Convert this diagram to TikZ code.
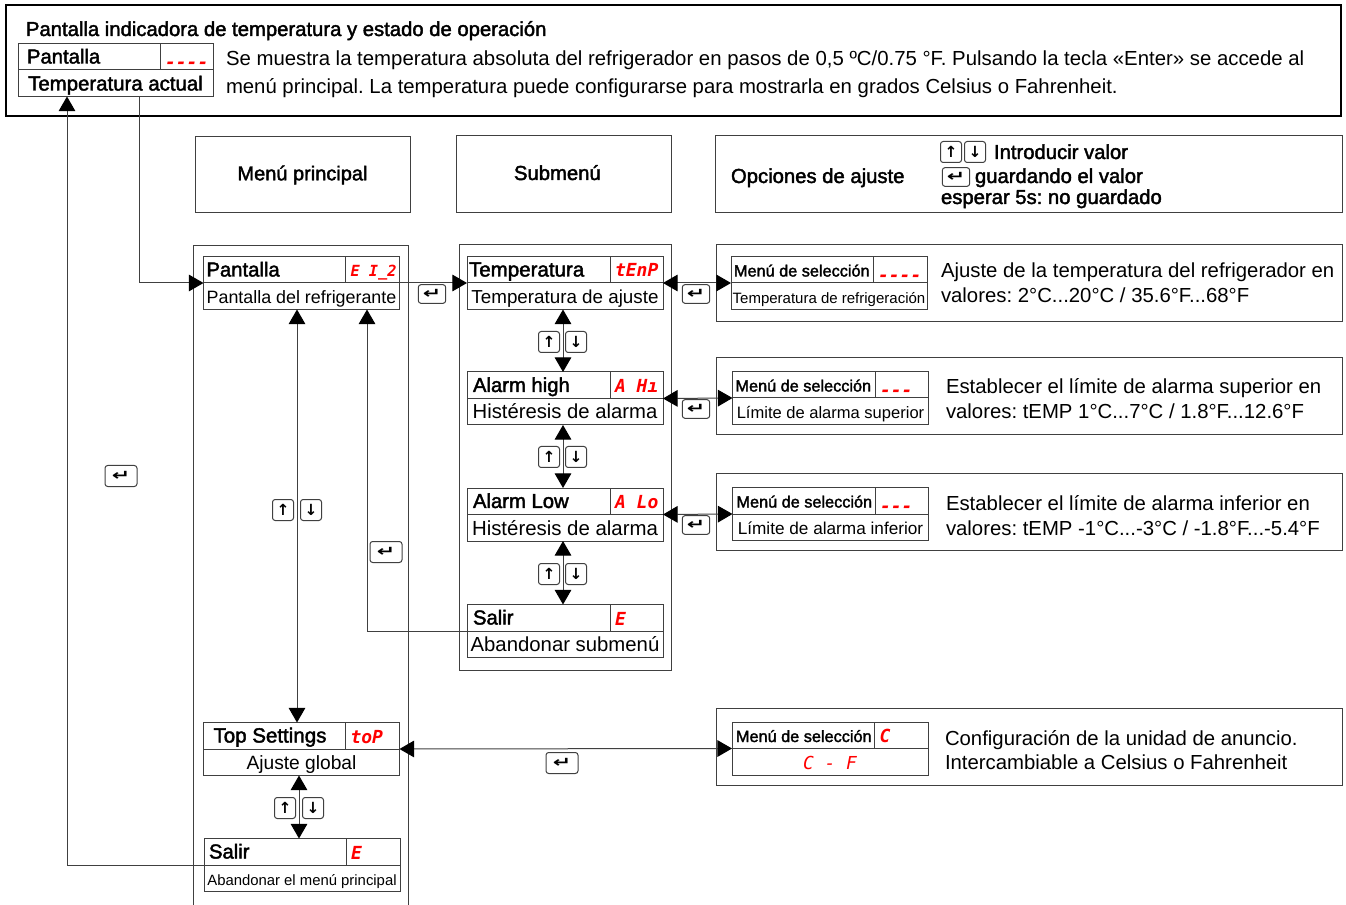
\documentclass[tikz,border=0pt]{standalone}
\usepackage{fontspec}
\setmainfont{Liberation Sans}
\newfontfamily\fakebold[FakeBold=2]{Liberation Sans}
\newfontfamily\segfont{DejaVu Sans Mono}
\newfontfamily\keyfont{DejaVu Sans}
\usetikzlibrary{arrows.meta, calc}

\tikzset{
	frame/.style={draw=black!75, line width=0.75pt},
	box/.style={frame, rectangle, inner sep=0pt, outer sep=0pt},
	menubox/.style={box, minimum height=39.75pt},
	plain/.style={inner sep=0pt, outer sep=0pt, anchor=base west},
	arrowkey/.style={box, rounded corners=2pt, minimum width=15.75pt, minimum height=15.75pt, font=\keyfont\bfseries\fontsize{11.5}{11.5}\selectfont},
	enterkey/.style={box, rounded corners=2pt, minimum width=20.5pt, minimum height=14pt, font=\keyfont\bfseries\fontsize{11}{11}\selectfont},
	bigenter/.style={enterkey, minimum width=24pt, minimum height=15.75pt},
	link/.style={frame, -{Triangle[length=11pt, width=12.5pt, color=black]}},
	twolink/.style={frame, {Triangle[length=11pt, width=12.5pt, color=black]}-{Triangle[length=11pt, width=12.5pt, color=black]}},
}

\begin{document}
\frenchspacing
\begin{tikzpicture}[x=0.75pt, y=-0.75pt]
	% Parameters
	\def\unit{0.75pt}
	\def\size#1{\fontsize{#1}{#1}\selectfont}
	\def\dashes{\raisebox{-3.5pt}{-{}-{}-{}-}}
	\def\dashthree{\raisebox{-3.5pt}{-{}-{}-}}
	\def\enter{\scalebox{1.5}[1]{↵}}

	\useasboundingbox (0,0) rectangle (1346,905);

	% Top frame
	\node[box, draw=black, line width=1.2pt, minimum width=1335*\unit, minimum height=111*\unit] (Top) at (673.5,60.5) {};
	\node[plain, font=\fakebold\size{15.2}] (TopTitle) at (26,36) {Pantalla indicadora de temperatura y estado de operación};
	\node[plain, font=\size{15.27}] (TopLineA) at (226,65.5) {Se muestra la temperatura absoluta del refrigerador en pasos de 0,5 ºC/0.75 °F. Pulsando la tecla «Enter» se accede al};
	\node[plain, font=\size{15.25}] (TopLineB) at (226,93.5) {menú principal. La temperatura puede configurarse para mostrarla en grados Celsius o Fahrenheit.};

	% Column headers
	\node[box, minimum width=215*\unit, minimum height=76*\unit, font=\fakebold\size{15}] (HeadMain) at (302.5,175) {\raisebox{2pt}{Menú principal}};
	\node[box, minimum width=215*\unit, minimum height=77*\unit] (HeadSub) at (563.5,174.5) {};
	\node[plain, font=\fakebold\size{15.2}] (HeadSubText) at (514,180) {Submenú};
	\node[box, minimum width=627*\unit, minimum height=77*\unit] (HeadOpt) at (1028.5,174.5) {};
	\node[plain, font=\fakebold\size{15.2}] (HeadOptText) at (731,183) {Opciones de ajuste};
	\node[plain, font=\fakebold\size{15.2}] (LegendA) at (994,159) {Introducir valor};
	\node[plain, font=\fakebold\size{15.2}] (LegendB) at (975,183) {guardando el valor};
	\node[plain, font=\fakebold\size{15.2}] (LegendC) at (941,204) {esperar 5s: no guardado};

	% Panels
	\draw[frame] (193,905) -- (193,245.5) -- (408,245.5) -- (408,905);
	\node[box, minimum width=212*\unit, minimum height=425*\unit] (PanelSub) at (565,457.5) {};
	\foreach \name/\cy in {PanelA/283, PanelB/396, PanelC/512, PanelD/747} {
		\node[box, minimum width=625.5*\unit, minimum height=77.5*\unit] (\name) at (1029.5,\cy) {};
	}

	% Option texts
	\foreach \name/\x/\y/\txt in {
		OptA/941/278/{Ajuste de la temperatura del refrigerador en},
		OptB/941/303/{valores: 2°C...20°C / 35.6°F...68°F},
		OptC/946/394/{Establecer el límite de alarma superior en},
		OptD/946/419/{valores: tEMP 1°C...7°C / 1.8°F...12.6°F},
		OptE/946/510/{Establecer el límite de alarma inferior en},
		OptF/946/535/{valores: tEMP -1°C...-3°C / -1.8°F...-5.4°F},
		OptG/945/745/{Configuración de la unidad de anuncio.},
		OptH/945/769/{Intercambiable a Celsius o Fahrenheit}} {
		\node[plain, font=\size{15.25}] (\name) at (\x,\y) {\txt};
	}

	% Display, menu and option boxes
	\foreach \name/\cx/\cy/\boxw/\spl/\titlex/\tsize/\fsize/\head/\code/\lowtxt in {
		Disp/115.5/70/195/142/9/15.2/15.3/{Pantalla}/{\dashes}/{\fakebold Temperatura actual},
		Main/301.5/283/196/142/3/15.2/13.4/{Pantalla}/{\size{11.5}E I\_2}/{Pantalla del refrigerante},
		Tset/301.5/749/196/142/10/15.4/14.4/{Top Settings}/{toP}/{Ajuste global},
		Mexit/302/865/196/142/5/15.2/11.15/{Salir}/{E}/{Abandonar el menú principal},
		Sone/565/283/196/143/2/15.4/14.1/{Temperatura}/{tEnP}/{Temperatura de ajuste},
		Stwo/565/398.5/196/143/6/15.2/15.2/{Alarm high}/{A Hı}/{Histéresis de alarma},
		Sthree/565/514.5/196/143/6/15.2/15.3/{Alarm Low}/{A Lo}/{Histéresis de alarma},
		Sfour/565/631/196/143/6/15.2/15.25/{Salir}/{E}/{Abandonar submenú},
		Oone/829/283/196/142/3/12.2/11.25/{Menú de selección}/{\dashes}/{Temperatura de refrigeración},
		Otwo/830.5/398/196/142.5/3/12.2/12.4/{Menú de selección}/{\dashthree}/{Límite de alarma superior},
		Othree/830.5/514/196/142.5/4/12.2/12.9/{Menú de selección}/{\dashthree}/{Límite de alarma inferior},
		Ofour/830/748.5/196/142.5/4/12.2/13.4/{Menú de selección}/{C}/{\segfont\itshape\color{red} C - F}} {
		\node[menubox, minimum width=\boxw*\unit] (\name) at (\cx,\cy) {};
		\draw[frame] (\name.west) -- (\name.east);
		\draw[frame] ($(\name.north west)+(\spl,0)$) -- ($(\name.west)+(\spl,0)$);
		\node[plain, font=\fakebold\size{\tsize}] (\name Title) at ($(\name.west)+(\titlex,-6.5)$) {\head};
		\node[plain, font=\segfont\bfseries\itshape\size{13.5}, text=red] (\name Code) at ($(\name.west)+(\spl+5,-6)$) {\code};
		\node[inner sep=0pt, outer sep=0pt, anchor=base, font=\size{\fsize}] (\name Sub) at ($(\name.west)+(\boxw/2,20.5)$) {\lowtxt};
	}

	% Keys
	\foreach \i/\xup/\xdown/\yy in {1/283/311/510, 2/549/576/342, 3/549/576/457, 4/549/576/574, 5/285/313/808, 6/951/975/152} {
		\node[arrowkey] (Up\i) at (\xup,\yy) {↑};
		\node[arrowkey] (Down\i) at (\xdown,\yy) {↓};
	}
	\foreach \i/\x/\y in {1/432/294, 2/696/294, 3/696/409, 4/696/525, 5/956/177} {
		\node[enterkey] (Enter\i) at (\x,\y) {\enter};
	}
	\foreach \i/\x/\y in {6/121/476, 7/386/552, 8/562/763} {
		\node[bigenter] (Enter\i) at (\x,\y) {\enter};
	}

	% Connectors between display and main menu
	\coordinate (DispOut) at ($(Disp.south)+(23.5,0)$);
	\coordinate (DispIn) at ($(Disp.south)+(-48.5,0)$);
	\draw[link] (DispOut) |- (Main.west);
	\draw[link] (Mexit.west) -| (DispIn);

	% Main menu to submenu and options
	\draw[link] (Main.east) -- (Sone.west);
	\draw[twolink] (Sone.east) -- (Oone.west);
	\draw[twolink] (Stwo.east) -- (Otwo.west);
	\draw[twolink] (Sthree.east) -- (Othree.west);
	\draw[twolink] (Tset.east) -- (Ofour.west);

	% Up and down between the rows
	\draw[twolink] ($(Main.south)+(-4.5,0)$) -- ($(Tset.north)+(-4.5,0)$);
	\draw[twolink] ($(Tset.south)+(-2.5,0)$) -- ($(Mexit.north)+(-3,0)$);
	\foreach \a/\b in {Sone/Stwo, Stwo/Sthree, Sthree/Sfour} {
		\draw[twolink] ($(\a.south)+(-2,0)$) -- ($(\b.north)+(-2,0)$);
	}

	% Leaving the submenu
	\draw[link] (Sfour.west) -| ($(Main.south)+(65.5,0)$);

\end{tikzpicture}
\end{document}
